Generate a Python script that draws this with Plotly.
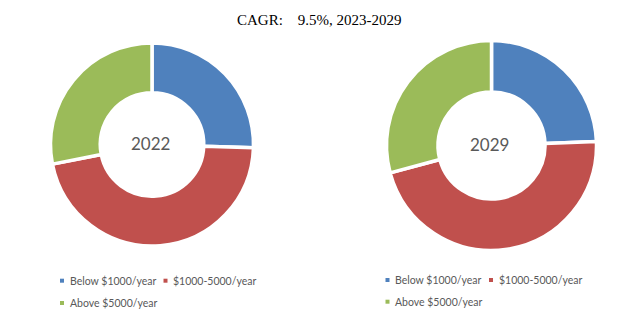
import plotly.graph_objects as go

categories = ["Below $1000/year", "$1000-5000/year", "Above $5000/year"]
values_2022 = [25.5, 46.4, 28.1]
values_2029 = [24.4, 46.4, 29.2]
years = ["2022", "2029"]
colors = ["#4F81BD", "#C0504D", "#9BBB59"]
title_text = "CAGR:\u00a0\u00a0\u00a0\u00a09.5%, 2023-2029"

W, H = 642, 322
fig = go.Figure()

# pie geometry (pixel centers / radii)
pies = [
    dict(vals=values_2022, cx=152, cy=144.5, r=101.5),
    dict(vals=values_2029, cx=491.5, cy=145.5, r=105),
]
for p in pies:
    fig.add_trace(go.Pie(
        labels=categories, values=p["vals"], sort=False, direction="clockwise",
        rotation=0, hole=0.51, textinfo="none", hoverinfo="label+value",
        marker=dict(colors=colors, line=dict(color="white", width=3.5)),
        showlegend=False,
        domain=dict(x=[(p["cx"] - p["r"]) / W, (p["cx"] + p["r"]) / W],
                    y=[(H - p["cy"] - p["r"]) / H, (H - p["cy"] + p["r"]) / H]),
    ))

annotations = []
for p, yr in zip(pies, years):
    annotations.append(dict(x=(p["cx"] - 2) / W, y=(H - p["cy"] + 1) / H, xref="paper", yref="paper",
                            text=yr, showarrow=False, xanchor="center", yanchor="middle",
                            font=dict(family="Lato", size=17, color="#595959")))

annotations.append(dict(x=319.5 / W, y=(H - 19.5) / H, xref="paper", yref="paper",
                        text=title_text, showarrow=False, xanchor="center", yanchor="middle",
                        font=dict(family="Liberation Serif", size=15, color="#000000")))

# legends
legend_layouts = [
    dict(pos=[(60, 280.7), (163.5, 280.7), (60, 303)]),
    dict(pos=[(385.5, 280), (489, 280), (385.5, 301.7)]),
]
shapes = []
for lg in legend_layouts:
    for (mx, my), lab, col in zip(lg["pos"], categories, colors):
        shapes.append(dict(type="rect", xref="paper", yref="paper",
                           x0=mx / W, x1=(mx + 4) / W,
                           y0=(H - my - 2) / H, y1=(H - my + 2) / H,
                           fillcolor=col, line=dict(width=0)))
        annotations.append(dict(x=(mx + 7.5) / W, y=(H - my) / H, xref="paper", yref="paper",
                                text=lab, showarrow=False, xanchor="left", yanchor="middle",
                                font=dict(family="Lato", size=10.5, color="#595959")))

fig.update_layout(width=W, height=H, margin=dict(l=0, r=0, t=0, b=0),
                  paper_bgcolor="white", plot_bgcolor="white",
                  annotations=annotations, shapes=shapes)
fig.write_html("out.html")
